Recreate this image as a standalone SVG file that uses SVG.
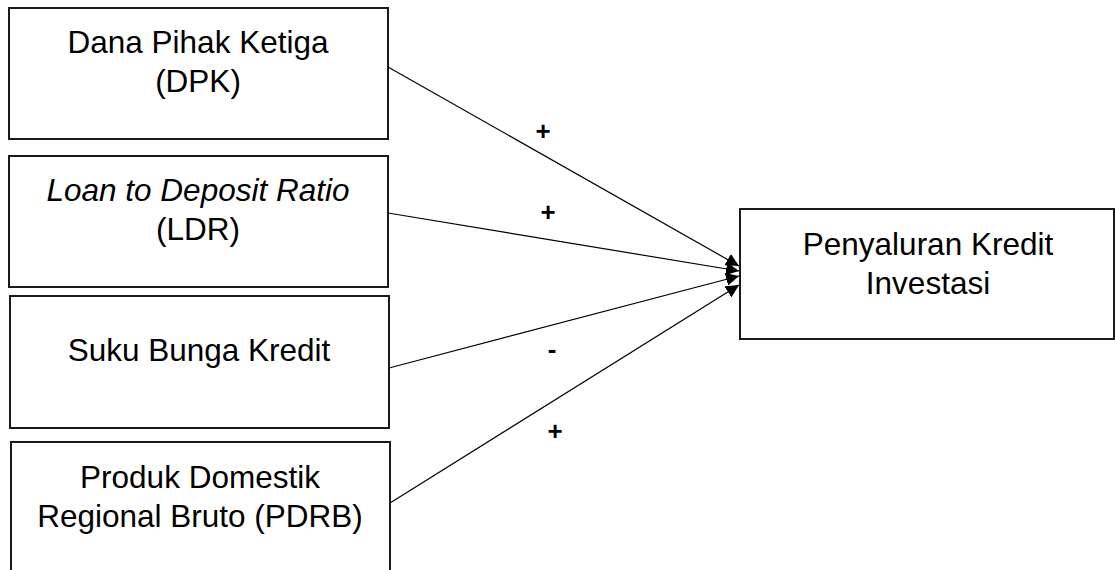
<svg xmlns="http://www.w3.org/2000/svg" width="1115" height="570" viewBox="0 0 1115 570">
  <style>
    .box { fill: #ffffff; stroke: #1a1a1a; stroke-width: 2; }
    .t { font-family: "Liberation Sans", Arial, sans-serif; font-size: 31.5px; fill: #000; text-anchor: middle; }
    .it { font-style: italic; }
    .sign { font-family: "Liberation Sans", Arial, sans-serif; font-size: 26px; font-weight: bold; fill: #000; text-anchor: middle; }
    .conn { stroke: #000; stroke-width: 1.2; fill: none; marker-end: url(#arrow); }
  </style>
  <defs>
    <marker id="arrow" viewBox="0 0 10 10" refX="10" refY="5" markerWidth="13" markerHeight="13" markerUnits="userSpaceOnUse" orient="auto">
      <path d="M0,0 L10,5 L0,10 z" fill="#000"/>
    </marker>
  </defs>
  <rect width="1115" height="570" fill="#ffffff"/>
  <g id="node-dpk">
    <rect class="box" x="9" y="8" width="379" height="131"/>
    <text class="t" x="198" y="53">Dana Pihak Ketiga</text>
    <text class="t" x="198" y="92">(DPK)</text>
  </g>
  <g id="node-ldr">
    <rect class="box" x="9" y="156" width="379" height="131"/>
    <text class="t it" x="198" y="201">Loan to Deposit Ratio</text>
    <text class="t" x="198" y="240">(LDR)</text>
  </g>
  <g id="node-suku">
    <rect class="box" x="10" y="296" width="379" height="132"/>
    <text class="t" x="199" y="361">Suku Bunga Kredit</text>
  </g>
  <g id="node-pdrb">
    <rect class="box" x="11" y="442" width="379" height="140"/>
    <text class="t" x="200" y="488">Produk Domestik</text>
    <text class="t" x="200" y="527">Regional Bruto (PDRB)</text>
  </g>
  <g id="node-kredit">
    <rect class="box" x="740" y="209" width="374" height="130"/>
    <text class="t" x="928" y="255">Penyaluran Kredit</text>
    <text class="t" x="928" y="294">Investasi</text>
  </g>
  <g id="connectors">
    <line class="conn" x1="388" y1="67" x2="739" y2="266"/>
    <line class="conn" x1="388" y1="213" x2="739" y2="271"/>
    <line class="conn" x1="389" y1="368" x2="739" y2="276"/>
    <line class="conn" x1="390" y1="503" x2="739" y2="285"/>
    <text class="sign" x="543" y="140">+</text>
    <text class="sign" x="548" y="221">+</text>
    <text class="sign" x="552" y="358">-</text>
    <text class="sign" x="555" y="440">+</text>
  </g>
</svg>
